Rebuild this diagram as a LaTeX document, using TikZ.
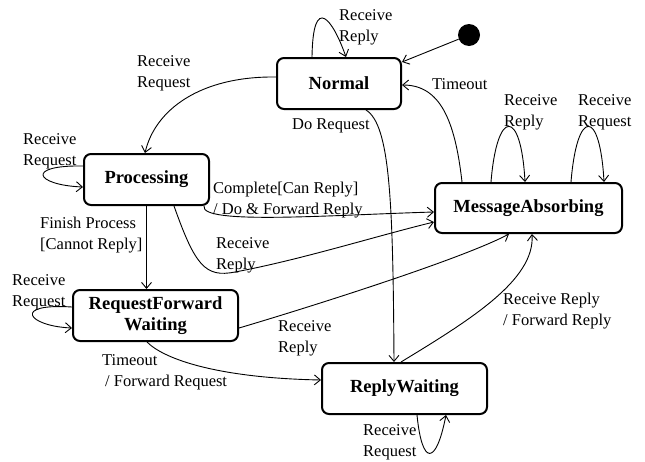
\documentclass[tikz,border=0pt]{standalone}
\usepackage{fontspec}
\setmainfont{Liberation Serif}
\usetikzlibrary{arrows.meta,calc}
\begin{document}
\begin{tikzpicture}[x=1pt,y=-1pt,
 state/.style={draw, line width=2pt, rounded corners=7pt, font=\fontsize{18.5}{21}\selectfont\bfseries, align=center, minimum height=51pt, inner sep=0pt},
 lbl/.style={font=\fontsize{16.5}{21}\selectfont, align=left, anchor=north west, inner sep=0pt},
 tr/.style={line width=0.9pt, -{Straight Barb[length=6pt,width=10pt]}},
]
\useasboundingbox (0,0) rectangle (645,461);
% states
\node[state, minimum width=124pt] (normal) at (339,83.5) {Normal};
\node[state, minimum width=125pt] (proc) at (146.5,179.5) {Processing};
\node[state, minimum width=187pt, minimum height=50pt] (ma) at (528.5,208) {MessageAbsorbing};
\node[state, minimum width=165pt] (rfw) at (155.5,315.5) {RequestForward\\Waiting};
\node[state, minimum width=165pt] (rw) at (404.5,388.5) {ReplyWaiting};
\node[circle, fill, inner sep=0pt, minimum size=22pt] (init) at (469,35) {};
% transitions
\draw[tr] (init) -- ($(normal.north east)+(0,5)$);
\draw[tr] ($(normal.north west)+(36,0)$) .. controls (313,-8) and (333,20) .. ($(normal.north west)+(70,0)$);
\draw[tr] ($(normal.north west)+(0,20)$) .. controls (200,76) and (155,110) .. ($(proc.north west)+(62,0)$);
\draw[tr] ($(proc.north west)+(0,13)$) .. controls (25,165) and (35,185) .. ($(proc.north west)+(0,34)$);
\draw[tr] (proc.south) -- (proc.south |- rfw.north);
\draw[tr] ($(proc.south east)+(-6,0)$) .. controls (200,225) and (330,215) .. ($(ma.north west)+(0,30)$);
\draw[tr] ($(proc.south west)+(91,0)$) .. controls (195,265) and (205,278) .. (235,272) .. controls (300,260) and (380,235) .. ($(ma.north west)+(0,40)$);
\draw[tr] ($(normal.south west)+(90,0)$) .. controls (390,125) and (393,200) .. ($(rw.north west)+(73,0)$);
\draw[tr] ($(ma.north west)+(28,0)$) .. controls (455,120) and (440,85) .. ($(normal.north east)+(0,28)$);
\draw[tr] ($(ma.north west)+(57,0)$) .. controls (497,108) and (521,108) .. ($(ma.north west)+(91,0)$);
\draw[tr] ($(ma.north west)+(137,0)$) .. controls (577,108) and (600,108) .. ($(ma.north west)+(170,0)$);
\draw[tr] ($(rfw.north east)+(0,39)$) .. controls (300,310) and (460,260) .. ($(ma.south west)+(75,0)$);
\draw[tr] ($(rfw.north west)+(0,18)$) .. controls (12,303) and (27,326) .. ($(rfw.north west)+(0,39)$);
\draw[tr] ($(rfw.south west)+(75,0)$) .. controls (165,360) and (220,378) .. ($(rw.north west)+(0,18)$);
\draw[tr] ($(rw.north west)+(80,0)$) .. controls (470,320) and (535,280) .. ($(ma.south west)+(98,0)$);
\draw[tr] ($(rw.south west)+(96,0)$) .. controls (422,466) and (436,466) .. ($(rw.south west)+(125,0)$);
% labels
\node[lbl] (l1) at (339,9) {Receive\\Reply};
\node[lbl] (l2) at (137,55) {Receive\\Request};
\node[lbl] (l3) at (23,133) {Receive\\Request};
\node[lbl] (l4) at (292,118) {Do Request};
\node[lbl] (l5) at (432,78) {Timeout};
\node[lbl] (l6) at (504,94) {Receive\\Reply};
\node[lbl] (l7) at (578,94) {Receive\\Request};
\node[lbl] (l8) at (213,182) {Complete[Can Reply]\\/ Do \& Forward Reply};
\node[lbl] (l9) at (216,237) {Receive\\Reply};
\node[lbl] (l10) at (40,217) {Finish Process\\{}[Cannot Reply]};
\node[lbl] (l11) at (12,274) {Receive\\Request};
\node[lbl] (l12) at (278,320) {Receive\\Reply};
\node[lbl] (l13) at (102,354) {Timeout\\\hspace*{3pt}/ Forward Request};
\node[lbl] (l14) at (503,293) {Receive Reply\\/ Forward Reply};
\node[lbl] (l15) at (363,424) {Receive\\Request};
\end{tikzpicture}
\end{document}
